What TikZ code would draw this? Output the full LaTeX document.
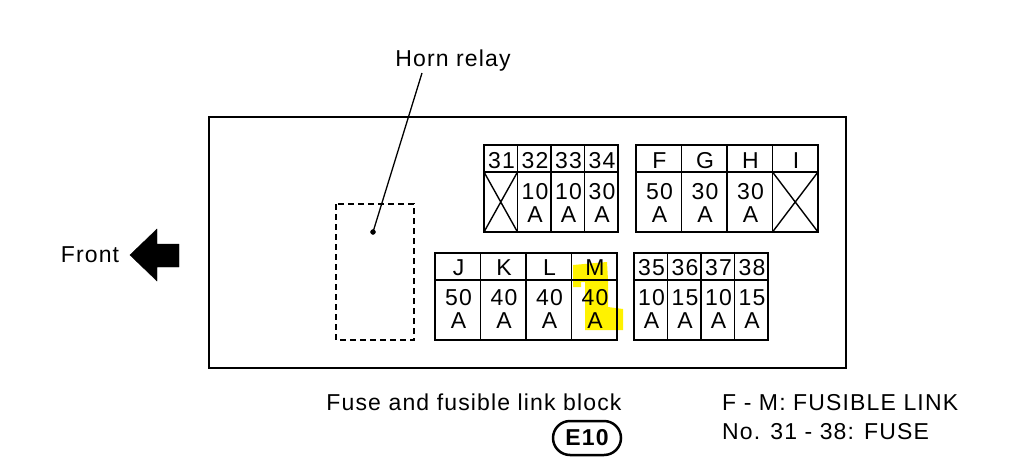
\documentclass[tikz,border=0pt]{standalone}
\usepackage{fontspec}
\setmainfont{Liberation Sans}[LetterSpace=5]
\usetikzlibrary{calc}

\tikzset{
	boxline/.style={black, line width=1.5pt},
	cellline/.style={black, line width=1.4pt},
	relayline/.style={black, line width=1.3pt, dash pattern=on 6pt off 4pt},
	celltext/.style={anchor=base, inner sep=0pt, font=\fontsize{23}{27}\selectfont},
	plaintext/.style={anchor=base west, inner sep=0pt, font=\fontsize{23}{27}\selectfont},
	codebadge/.style={draw, black, line width=2.5pt, rounded corners=17pt, minimum width=68pt, minimum height=34pt, inner sep=0pt, font=\bfseries\fontsize{23}{27}\selectfont}
}

\begin{document}
\begin{tikzpicture}[x=1pt, y=-1pt]
		\useasboundingbox (0,0) rectangle (1028,466);
		\fill[yellow] (573,265) -- (607,262) -- (608,280) -- (608,307) -- (623,309) -- (623,330) -- (585,330) -- (585,282) -- (581,282) -- (581,287) -- (573,287) -- cycle;
		\draw[boxline] (209,117) rectangle (846,368);
		\draw[relayline] (336,204) rectangle (414,340);
		\coordinate (relaydot) at (373,232);
		\coordinate (leadtop) at (422,73);
		\filldraw[black] (relaydot) circle (2.5pt);
		\node[celltext] (hornlabel) at (453,66) {Horn relay};
		\draw[black, line width=1.3pt] (relaydot) -- (leadtop);
		\node[celltext] (frontlabel) at (90,262) {Front};
		\filldraw[black] (130,255) -- (157,229) -- (157,244) -- (179,244) -- (179,267) -- (157,267) -- (157,281) -- cycle;
		\draw[cellline] (484,145) rectangle (618,232);
		\draw[cellline] (484,172) -- (618,172);
		\foreach \k in {1,2,3}
			\draw[cellline] (484+33.5*\k,145) -- (484+33.5*\k,232);
		\draw[cellline] (484,172) -- (517.5,232) (517.5,172) -- (484,232);
		\foreach \lab [count=\k from 0] in {31,32,33,34}
			\node[celltext] (n\lab) at (501.5+33.5*\k,168) {\lab};
		\foreach \lab/\amp [count=\k from 1] in {32/10,33/10,34/30} {
			\node[celltext] (v\lab) at (501.5+33.5*\k,199) {\amp};
			\node[celltext] (a\lab) at (501.5+33.5*\k,222) {A};
		}
		\draw[cellline] (636,145) rectangle (818,232);
		\draw[cellline] (636,172) -- (818,172);
		\foreach \k in {1,2,3}
			\draw[cellline] (636+45.5*\k,145) -- (636+45.5*\k,232);
		\draw[cellline] (772.5,172) -- (818,232) (818,172) -- (772.5,232);
		\foreach \lab [count=\k from 0] in {F,G,H,I}
			\node[celltext] (n\lab) at (659.5+45.5*\k,168) {\lab};
		\foreach \lab/\amp [count=\k from 0] in {F/50,G/30,H/30} {
			\node[celltext] (v\lab) at (659.5+45.5*\k,199) {\amp};
			\node[celltext] (a\lab) at (659.5+45.5*\k,222) {A};
		}
		\draw[cellline] (435,253) rectangle (617,340);
		\draw[cellline] (435,280) -- (617,280);
		\foreach \k in {1,2,3}
			\draw[cellline] (435+45.5*\k,253) -- (435+45.5*\k,340);
		\foreach \lab/\amp [count=\k from 0] in {J/50,K/40,L/40,M/40} {
			\node[celltext] (n\lab) at (458.5+45.5*\k,275) {\lab};
			\node[celltext] (v\lab) at (458.5+45.5*\k,305) {\amp};
			\node[celltext] (a\lab) at (458.5+45.5*\k,328) {A};
		}
		\draw[cellline] (634,253) rectangle (768,340);
		\draw[cellline] (634,280) -- (768,280);
		\foreach \k in {1,2,3}
			\draw[cellline] (634+33.5*\k,253) -- (634+33.5*\k,340);
		\foreach \lab/\amp [count=\k from 0] in {35/10,36/15,37/10,38/15} {
			\node[celltext] (n\lab) at (651.5+33.5*\k,275) {\lab};
			\node[celltext] (v\lab) at (651.5+33.5*\k,305) {\amp};
			\node[celltext] (a\lab) at (651.5+33.5*\k,328) {A};
		}
		\node[celltext] (blockname) at (474,410) {Fuse and fusible link block};
		\node[codebadge] (blockcode) at (587,438) {E10};
		\node[plaintext] (linknote) at (722,410) {F - M: FUSIBLE LINK};
		\node[plaintext] (fusenote) at (722,439) {No. 31 - 38: FUSE};
	\end{tikzpicture}
\end{document}
